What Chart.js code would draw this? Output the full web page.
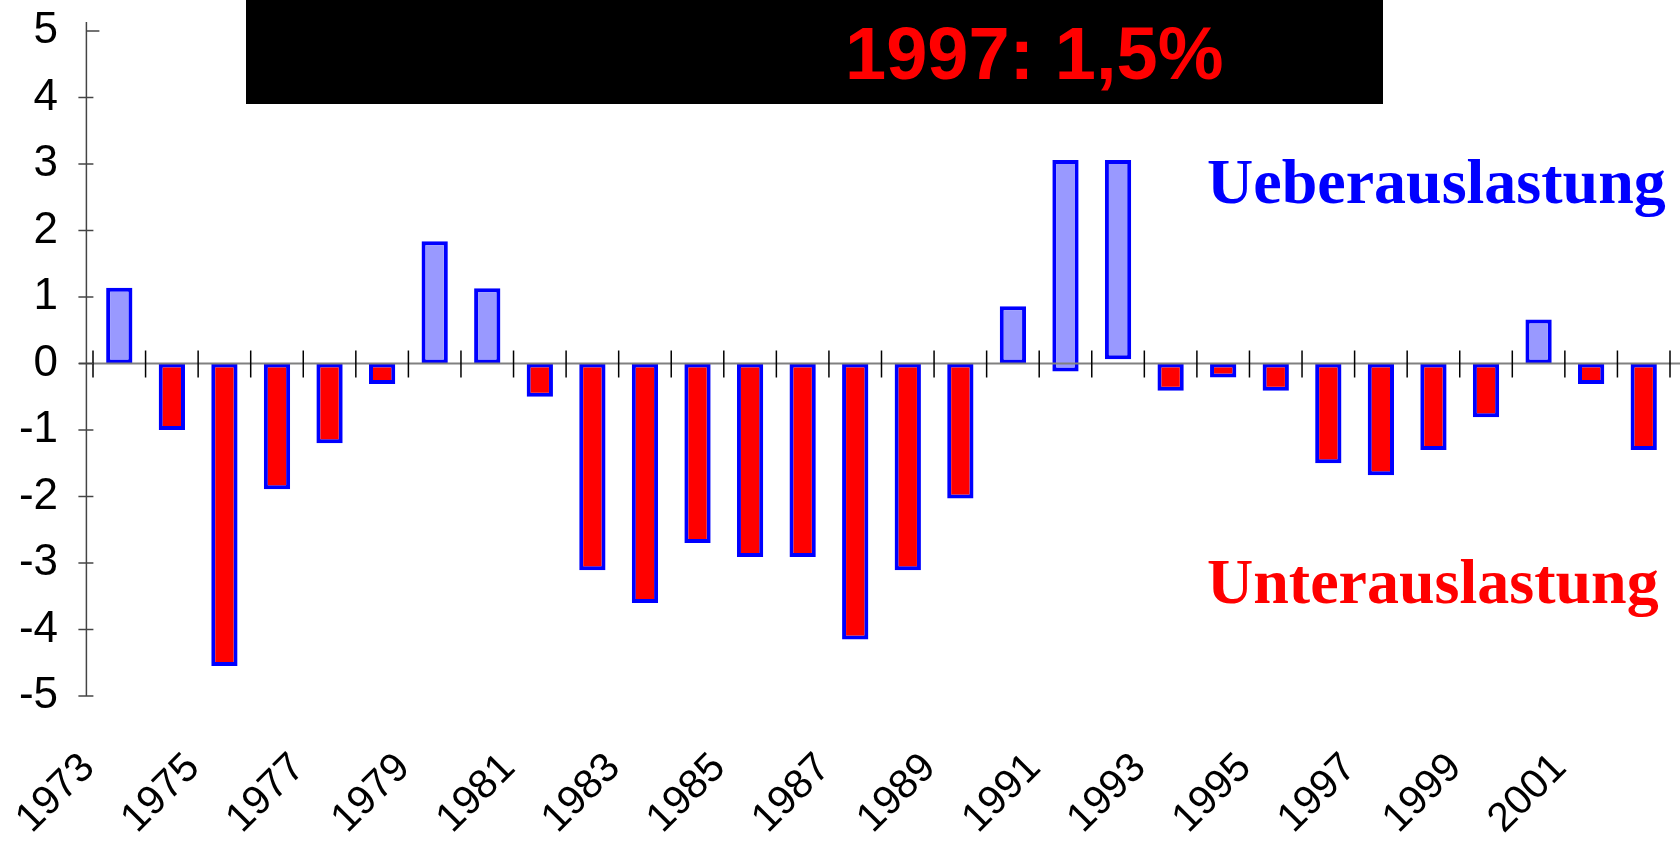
<!DOCTYPE html>
<html>
<head>
<meta charset="utf-8">
<script src="https://cdn.jsdelivr.net/npm/chart.js@4/dist/chart.umd.min.js"></script>
<style>
html,body{margin:0;padding:0;background:#fff;overflow:hidden;}
canvas{display:block;}
</style>
</head>
<body>
<canvas id="c" width="1680" height="841"></canvas>
<script>
// ---- data ----
const years = ['1973','1974','1975','1976','1977','1978','1979','1980','1981','1982',
               '1983','1984','1985','1986','1987','1988','1989','1990','1991','1992',
               '1993','1994','1995','1996','1997','1998','1999','2000','2001','2002'];
const barEnds = [1.14, -1.0, -4.55, -1.89, -1.2, -0.31, 1.84, 1.13, -0.5, -3.11,
                 -3.6, -2.7, -2.91, -2.91, -4.15, -3.11, -2.03, 0.86, 3.06, 3.06,
                 -0.41, -0.21, -0.41, -1.5, -1.68, -1.3, -0.81, 0.66, -0.31, -1.3];
const barStarts = [0, 0, 0, 0, 0, 0, 0, 0, 0, 0,
                   0, 0, 0, 0, 0, 0, 0, 0, -0.12, 0.065,
                   0, 0, 0, 0, 0, 0, 0, 0, 0, 0];
const yTickValues = [-5, -4, -3, -2, -1, 0, 1, 2, 3, 4, 5];
const boxText = '1997: 1,5%';
const overText = 'Ueberauslastung';
const underText = 'Unterauslastung';

const POS_COLOR = '#9999ff', NEG_COLOR = '#ff0000', EDGE_COLOR = '#0000ff';

function line(ctx, x1, y1, x2, y2) {
  ctx.beginPath(); ctx.moveTo(x1, y1); ctx.lineTo(x2, y2); ctx.stroke();
}

const decor = {
  id: 'decor',
  afterDatasetsDraw(chart) {
    const ctx = chart.ctx, xs = chart.scales.x, ys = chart.scales.y;
    const y0 = ys.getPixelForValue(0);
    ctx.save();
    // zero line
    ctx.strokeStyle = '#808080'; ctx.lineWidth = 2;
    line(ctx, 79, y0, chart.width, y0);
    // category boundary tick marks
    ctx.strokeStyle = '#000'; ctx.lineWidth = 1.5;
    const half = (xs.getPixelForValue(1) - xs.getPixelForValue(0)) / 2;
    for (let i = 0; i <= years.length; i++) {
      const bx = xs.getPixelForValue(0) - half + i * 2 * half;
      line(ctx, bx, y0 - 13, bx, y0 + 14);
    }
    // y axis line + ticks
    const ax = xs.left - 6.6;
    ctx.strokeStyle = '#444'; ctx.lineWidth = 1.5;
    line(ctx, ax, ys.getPixelForValue(5) - 9, ax, ys.getPixelForValue(-5));
    yTickValues.forEach(v => {
      const py = ys.getPixelForValue(v);
      if (v === 5) line(ctx, ax, py, ax + 13, py);
      else line(ctx, ax - 8, py, ax + 7, py);
    });
    ctx.restore();
  },
  afterDraw(chart) {
    const ctx = chart.ctx;
    ctx.save();
    ctx.fillStyle = '#000';
    ctx.fillRect(246, 0, 1137, 104);
    ctx.textBaseline = 'alphabetic';
    ctx.textAlign = 'left';
    ctx.fillStyle = '#ff0000';
    ctx.font = 'bold 74px "Liberation Sans", Arial, sans-serif';
    ctx.fillText(boxText, 845, 79);
    ctx.font = 'bold 64px "Liberation Serif", "Times New Roman", serif';
    ctx.fillStyle = '#0000ff';
    ctx.fillText(overText, 1207, 203);
    ctx.fillStyle = '#ff0000';
    ctx.fillText(underText, 1207, 603);
    ctx.restore();
  }
};

new Chart(document.getElementById('c'), {
  type: 'bar',
  data: {
    labels: years,
    datasets: [{
      data: years.map((_, i) => [barStarts[i], barEnds[i]]),
      backgroundColor: barEnds.map(v => v > 0 ? POS_COLOR : NEG_COLOR),
      borderColor: EDGE_COLOR,
      borderWidth: 4,
      borderSkipped: false,
      barPercentage: 0.5,
      categoryPercentage: 1.0
    }]
  },
  options: {
    responsive: false,
    devicePixelRatio: 1,
    animation: false,
    layout: { padding: { top: 31, right: 10, left: 0, bottom: 0 } },
    plugins: { legend: { display: false }, tooltip: { enabled: false } },
    scales: {
      x: {
        type: 'category',
        offset: true,
        grid: { display: false, drawTicks: false },
        border: { display: false },
        ticks: {
          autoSkip: false,
          maxRotation: 45,
          minRotation: 45,
          padding: 48,
          labelOffset: -31,
          color: '#000',
          font: { family: '"Liberation Sans", Arial, sans-serif', size: 41 },
          callback: (v, i) => (i % 2 === 0 ? years[i] : '')
        },
        afterFit(s) { s.height = 145; s.paddingLeft = 0; s.paddingRight = 0; }
      },
      y: {
        type: 'linear',
        min: -5,
        max: 5,
        grid: { display: false, drawTicks: false },
        border: { display: false },
        ticks: {
          stepSize: 1,
          padding: 35,
          color: '#000',
          font: { family: '"Liberation Sans", Arial, sans-serif', size: 44 },
          callback: v => String(v)
        },
        afterFit(s) { s.width = 93; s.paddingTop = 0; s.paddingBottom = 0; }
      }
    }
  },
  plugins: [decor]
});
</script>
</body>
</html>
